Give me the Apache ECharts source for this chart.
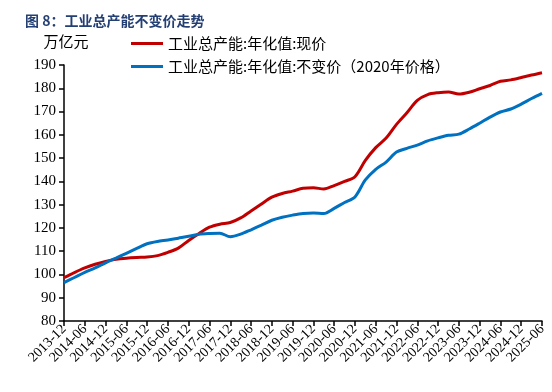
<!DOCTYPE html>
<html>
<head>
<meta charset="utf-8">
<script src="https://cdn.jsdelivr.net/npm/echarts@6/dist/echarts.min.js"></script>
<style>
html,body{margin:0;padding:0;background:#fff;}
#main{width:552px;height:392px;}
</style>
</head>
<body>
<div id="main"></div>
<script>
var months = [];
for (var y = 2013; y <= 2025; y++) {
	['03','06','09','12'].forEach(function(m){
		var k = y + '-' + m;
		if (k >= '2013-12' && k <= '2025-06') months.push(k);
	});
}
var yTicks = [80,90,100,110,120,130,140,150,160,170,180,190];
var nameCur = '工业总产能:年化值:现价';
var nameConst = '工业总产能:年化值:不变价（2020年价格）';
var curPrice = [98.6,100.8,102.8,104.4,105.6,106.5,107.0,107.3,107.5,108.1,109.5,111.3,
	114.6,117.6,120.3,121.6,122.3,124.3,127.3,130.3,133.2,134.8,135.8,137.0,
	137.3,136.7,138.2,140.0,142.0,149.0,154.5,158.6,164.5,169.5,174.8,177.3,
	178.1,178.4,177.5,178.3,179.8,181.2,183.0,183.6,184.6,185.7,186.7];
var constPrice = [96.5,98.7,100.9,102.8,105.0,107.0,109.1,111.2,113.2,114.2,114.8,115.6,
	116.4,117.3,117.6,117.7,116.2,117.3,119.2,121.2,123.3,124.6,125.5,126.2,
	126.4,126.2,128.4,130.9,133.3,140.6,145.2,148.3,152.6,154.2,155.6,157.4,
	158.7,159.8,160.3,162.5,165.0,167.6,169.8,171.1,173.2,175.6,177.8];

var chart = echarts.init(document.getElementById('main'));
var serif = '"Liberation Serif","Times New Roman",serif';
var option = {
	animation: false,
	title: {
		text: '图 8：工业总产能不变价走势',
		left: 20,
		top: 9,
		textStyle: {
			fontSize: 14,
			fontWeight: 'bold',
			color: '#243f73',
			fontFamily: '"Noto Sans CJK SC",sans-serif'
		}
	},
	legend: {
		orient: 'vertical',
		left: 126,
		top: 31,
		itemWidth: 32,
		itemHeight: 3,
		itemGap: 8,
		icon: 'rect',
		textStyle: {
			fontSize: 15,
			color: '#000',
			fontFamily: '"Noto Sans CJK SC",sans-serif'
		},
		data: [nameCur, nameConst]
	},
	grid: {
		left: 64,
		right: 10,
		top: 65,
		bottom: 71
	},
	xAxis: {
		type: 'category',
		boundaryGap: false,
		data: months,
		axisLine: {lineStyle: {color: '#000', width: 1.5}},
		axisTick: {
			alignWithLabel: true,
			interval: 1,
			length: 5,
			lineStyle: {color: '#000', width: 1.5}
		},
		axisLabel: {
			interval: 1,
			rotate: 45,
			margin: 6,
			color: '#000',
			fontSize: 14,
			fontFamily: serif
		},
		splitLine: {show: false}
	},
	yAxis: {
		type: 'value',
		name: '万亿元',
		nameLocation: 'end',
		nameGap: 16,
		nameTextStyle: {
			fontSize: 15,
			color: '#000',
			align: 'center',
			padding: [0, 0, 0, 4],
			fontFamily: '"Noto Sans CJK SC",sans-serif'
		},
		min: yTicks[0],
		max: yTicks[yTicks.length - 1],
		interval: 10,
		axisLine: {show: true, lineStyle: {color: '#000', width: 1.5}},
		axisTick: {show: true, length: 5, lineStyle: {color: '#000', width: 1.5}},
		axisLabel: {
			color: '#000',
			fontSize: 15,
			margin: 8,
			fontFamily: serif
		},
		splitLine: {show: false}
	},
	series: [
		{
			name: nameCur,
			type: 'line',
			data: curPrice,
			smooth: 0.3,
			showSymbol: false,
			lineStyle: {color: '#c00000', width: 3},
			itemStyle: {color: '#c00000'}
		},
		{
			name: nameConst,
			type: 'line',
			data: constPrice,
			smooth: 0.3,
			showSymbol: false,
			lineStyle: {color: '#0070c0', width: 3},
			itemStyle: {color: '#0070c0'}
		}
	]
};
chart.setOption(option);
</script>
</body>
</html>
